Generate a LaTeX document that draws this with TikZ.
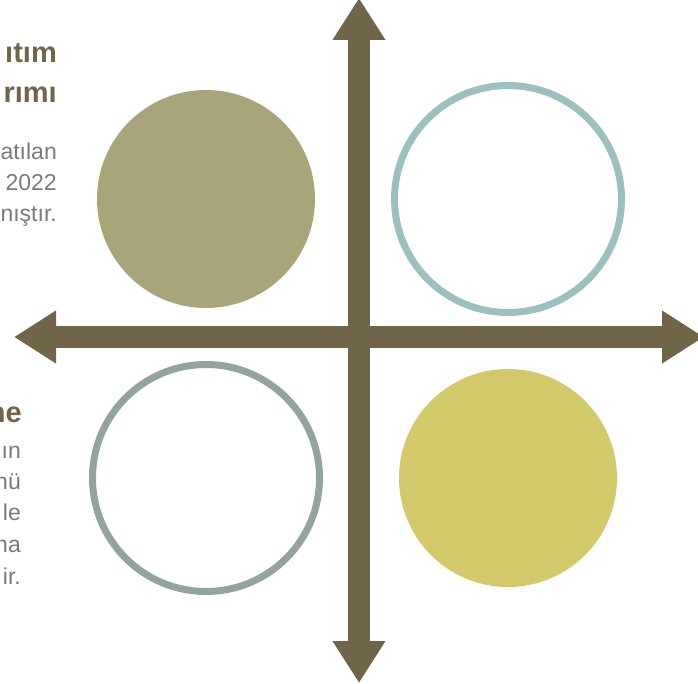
\documentclass[tikz,border=0pt]{standalone}
\usepackage{fontspec}
\setmainfont{Liberation Sans}
\usetikzlibrary{arrows.meta}
\definecolor{cAxis}{HTML}{706548}
\definecolor{cOlive}{HTML}{A9A57B}
\definecolor{cTeal}{HTML}{9CC0BE}
\definecolor{cSage}{HTML}{93A39E}
\definecolor{cMustard}{HTML}{D2C96A}
\definecolor{cGray}{HTML}{7A7A7A}
\tikzset{
  disc/.style={circle,fill=#1,inner sep=0pt,minimum size=218pt},
  ring/.style={circle,draw=#1,line width=7pt,inner sep=0pt,minimum size=227pt},
  axisarrow/.style={cAxis,line width=22pt,
              {Triangle[length=42pt,width=50pt]}-{Triangle[length=42pt,width=50pt]}},
  headline/.style={font=\fontsize{29}{35}\selectfont\bfseries,text=cAxis,
              anchor=base east,inner sep=0pt},
  bodytext/.style={font=\fontsize{23}{27}\selectfont,text=cGray,
              anchor=base east,inner sep=0pt},
}

\begin{document}
\begin{tikzpicture}[x=1pt,y=-1pt]
  \useasboundingbox (0,0) rectangle (698,684);
  % four quadrant circles
  \node[disc=cOlive] (nw) at (206,199) {};
  \node[ring=cTeal] (ne) at (508,199) {};
  \node[ring=cSage] (sw) at (206,478) {};
  \node[disc=cMustard] (se) at (508,478) {};
  % axes
  \coordinate (top) at (359,-2);
  \coordinate (bottom) at (359,683);
  \coordinate (west) at (14,337);
  \coordinate (east) at (704,337);
  \draw[axisarrow] (bottom) -- (top);
  \draw[axisarrow] (west) -- (east);
  % upper left text
  \node[headline] (h1) at (57,63) {ıtım};
  \node[headline] (h2) at (57,103) {rımı};
  \node[bodytext] (b1) at (57,160) {atılan};
  \node[bodytext] (b2) at (57,191) {2022};
  \node[bodytext] (b3) at (57,222) {nıştır.};
  % lower left text
  \node[headline] (h3) at (22,422) {ne};
  \node[bodytext] (c1) at (21,458) {ın};
  \node[bodytext] (c2) at (21,489) {nü};
  \node[bodytext] (c3) at (21,520) {le};
  \node[bodytext] (c4) at (21,552) {na};
  \node[bodytext] (c5) at (21,584) {ir.};
\end{tikzpicture}
\end{document}
